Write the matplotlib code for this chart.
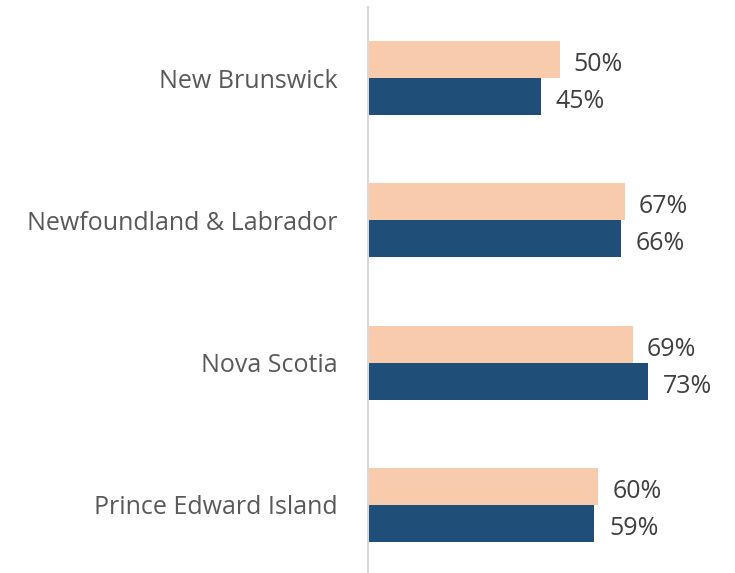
import matplotlib.pyplot as plt
import numpy as np

provinces = ["New Brunswick", "Newfoundland & Labrador", "Nova Scotia", "Prince Edward Island"]
series_top = [50, 67, 69, 60]      # light orange bars
series_bottom = [45, 66, 73, 59]   # dark blue bars

plt.rcParams['font.family'] = ['Open Sans', 'DejaVu Sans']

fig = plt.figure(figsize=(7.35, 5.73), dpi=100)
ax = fig.add_axes([368/735, 0, 1 - 368/735, 1 - 7/573])

y = np.arange(len(provinces))
h = 0.26
ax.barh(y - h/2, series_top, height=h, color='#F8CBAD')
ax.barh(y + h/2, series_bottom, height=h, color='#1F4E79')

for yi, v in zip(y, series_top):
    ax.text(v + 3.6, yi - h/2 + 0.015, f"{v}%", va='center_baseline', ha='left', fontsize=18, color='#404040')
for yi, v in zip(y, series_bottom):
    ax.text(v + 3.8, yi + h/2 + 0.015, f"{v}%", va='center_baseline', ha='left', fontsize=18, color='#404040')

ax.set_xlim(0, 95.6)
ax.set_ylim(3.48, -0.5)
ax.set_yticks(y)
ax.set_yticklabels(provinces, fontsize=18, color='#595959')
ax.tick_params(axis='y', length=0, pad=22)
ax.set_xticks([])
for s in ['top', 'right', 'bottom']:
    ax.spines[s].set_visible(False)
ax.spines['left'].set_color('#D9D9D9')
ax.spines['left'].set_linewidth(1.5)

plt.savefig("out.png", dpi=100)
